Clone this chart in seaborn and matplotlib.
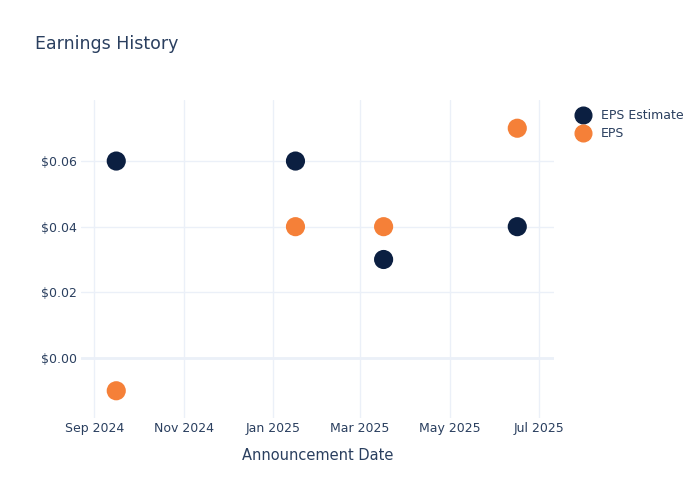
import numpy as np
import pandas as pd
import seaborn as sns
import matplotlib.pyplot as plt
import matplotlib.dates as mdates
from matplotlib.ticker import FuncFormatter
from matplotlib.lines import Line2D

# veriler
dates = ["2024-09-16", "2025-01-16", "2025-03-17", "2025-06-16"]
eps_estimate = [0.06, 0.06, 0.03, 0.04]
eps_actual = [-0.01, 0.04, 0.04, 0.07]
series_names = ["EPS Estimate", "EPS"]

df = pd.DataFrame({
    "date": pd.to_datetime(dates * 2),
    "value": eps_estimate + eps_actual,
    "series": [series_names[0]] * 4 + [series_names[1]] * 4,
})

sns.set_theme(style="white")
plt.rcParams["font.family"] = ["DejaVu Sans"]
text_color = "#2a3f5f"
grid_color = "#ebf0f8"
colors = ["#0b1f41", "#f58038"]

fig = plt.figure(figsize=(7, 5), dpi=100)
ax = fig.add_axes([81 / 700, 1 - 418 / 500, (554 - 81) / 700, (418 - 100) / 500])

sns.scatterplot(data=df, x="date", y="value", hue="series",
                palette=colors, s=190, linewidth=0,
                ax=ax, zorder=3, legend=False)

ax.set_xlim(pd.Timestamp("2024-08-23"), pd.Timestamp("2025-07-11"))
ax.set_ylim(-0.0183, 0.0786)

ax.xaxis.set_major_locator(mdates.MonthLocator(bymonth=[1, 3, 5, 7, 9, 11]))
ax.xaxis.set_major_formatter(mdates.DateFormatter("%b %Y"))
ax.set_yticks([0.0, 0.02, 0.04, 0.06])
ax.yaxis.set_major_formatter(FuncFormatter(lambda v, p: f"${v:.2f}"))

ax.grid(True, color=grid_color, linewidth=1, zorder=0)
ax.axhline(0, color=grid_color, linewidth=2, zorder=1)
for s in ax.spines.values():
    s.set_visible(False)
ax.tick_params(axis="both", length=0, labelsize=9, colors=text_color)
ax.tick_params(axis="x", pad=3)
ax.tick_params(axis="y", pad=3)

ax.set_xlabel("Announcement Date", fontsize=10.5, color=text_color, labelpad=9)
ax.set_ylabel("")

fig.text(35 / 700, 1 - 44 / 500, "Earnings History", fontsize=12.5,
         color=text_color, va="center", ha="left")

# legend
handles = [Line2D([], [], marker="o", linestyle="", markersize=12, color=c)
           for c in colors]
leg = fig.legend(handles, series_names, loc="upper left",
                 bbox_to_anchor=(570 / 700, 1 - 104 / 500), frameon=False,
                 fontsize=9, handletextpad=0.9, labelspacing=0.4,
                 borderaxespad=0, handlelength=1.2)
for t in leg.get_texts():
    t.set_color(text_color)

fig.savefig("out.png", dpi=100)
